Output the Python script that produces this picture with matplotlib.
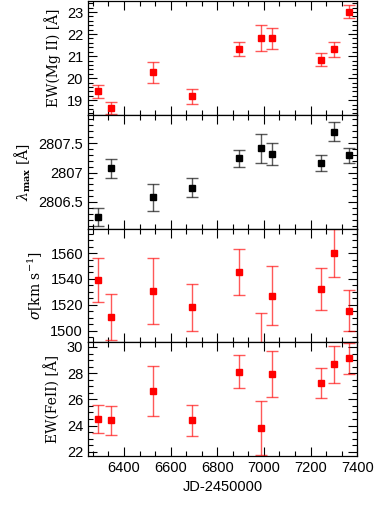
import numpy as np
import matplotlib
matplotlib.use('Agg')
import matplotlib.pyplot as plt
from matplotlib.ticker import MultipleLocator

plt.rcParams['font.family'] = ['Liberation Sans', 'DejaVu Sans']
plt.rcParams['mathtext.fontset'] = 'dejavuserif'

# observation epochs (JD-2450000)
jd = [6287, 6344, 6526, 6693, 6894, 6987, 7033, 7244, 7301, 7364]

ew_mg = [19.40, 18.64, 20.27, 19.17, 21.31, 21.82, 21.80, 20.84, 21.31, 23.02]
ew_mg_err = [0.28, 0.27, 0.47, 0.32, 0.32, 0.58, 0.46, 0.28, 0.34, 0.28]

lam_max = [2806.25, 2807.07, 2806.58, 2806.74, 2807.24, 2807.41, 2807.31, 2807.16, 2807.69, 2807.29]
lam_err = [0.15, 0.16, 0.23, 0.16, 0.15, 0.24, 0.19, 0.14, 0.16, 0.12]

sigma = [1539.5, 1510.6, 1530.5, 1517.9, 1545.3, 1488.0, 1527.0, 1532.2, 1560.0, 1515.4]
sigma_err = [17.0, 17.5, 25.5, 18.5, 17.7, 25.5, 22.7, 16.2, 18.5, 15.8]

ew_fe = [24.48, 24.40, 26.65, 24.40, 28.10, 23.81, 27.93, 27.24, 28.67, 29.13]
ew_fe_err = [1.05, 1.10, 1.90, 1.20, 1.25, 2.10, 1.75, 1.15, 1.40, 1.20]

ylabels = [r'EW(Mg II) [Å]', r'$\lambda_{\mathbf{max}}$ [Å]',
           r'$\sigma$[km s$^{-1}$]', r'EW(FeII) [Å]']
ylims = [(18.34, 23.5), (2806.05, 2807.98), (1491, 1579), (21.67, 30.36)]
majors = [1, 0.5, 20, 2]
minors = [0.2, 0.1, 5, 0.5]
colors = ['red', 'black', 'red', 'red']
series = [(ew_mg, ew_mg_err), (lam_max, lam_err), (sigma, sigma_err), (ew_fe, ew_fe_err)]

fig, axes = plt.subplots(4, 1, sharex=True, figsize=(3.74, 5.05), dpi=100)
fig.subplots_adjust(left=0.235, right=0.955, top=0.998, bottom=0.097, hspace=0)

for ax, (vals, errs), lab, yl, mj, mn, c in zip(axes, series, ylabels, ylims,
                                                majors, minors, colors):
    ax.errorbar(jd, vals, yerr=errs, fmt='none', ecolor=c, alpha=0.65,
                elinewidth=1.0, capsize=4, capthick=1.0)
    ax.plot(jd, vals, 's', color=c, ms=4.3, mec=c)
    ax.set_ylim(*yl)
    ax.set_xlim(6245, 7400)
    ax.yaxis.set_major_locator(MultipleLocator(mj))
    ax.yaxis.set_minor_locator(MultipleLocator(mn))
    ax.xaxis.set_major_locator(MultipleLocator(200))
    ax.xaxis.set_minor_locator(MultipleLocator(200 / 3))
    ax.tick_params(which='both', direction='in', top=True, right=True,
                   labelsize=10.5, width=0.8)
    ax.tick_params(which='major', length=6.5)
    ax.tick_params(which='minor', length=3.4)
    ax.set_ylabel(lab, fontsize=10, family=['DejaVu Serif'], labelpad=4)
    for s in ax.spines.values():
        s.set_linewidth(0.9)

axes[1].yaxis.set_major_formatter(plt.FuncFormatter(lambda v, p: f'{v:g}'))
axes[-1].set_xlabel('JD-2450000', fontsize=10.5)

fig.savefig('out.png', dpi=100)
